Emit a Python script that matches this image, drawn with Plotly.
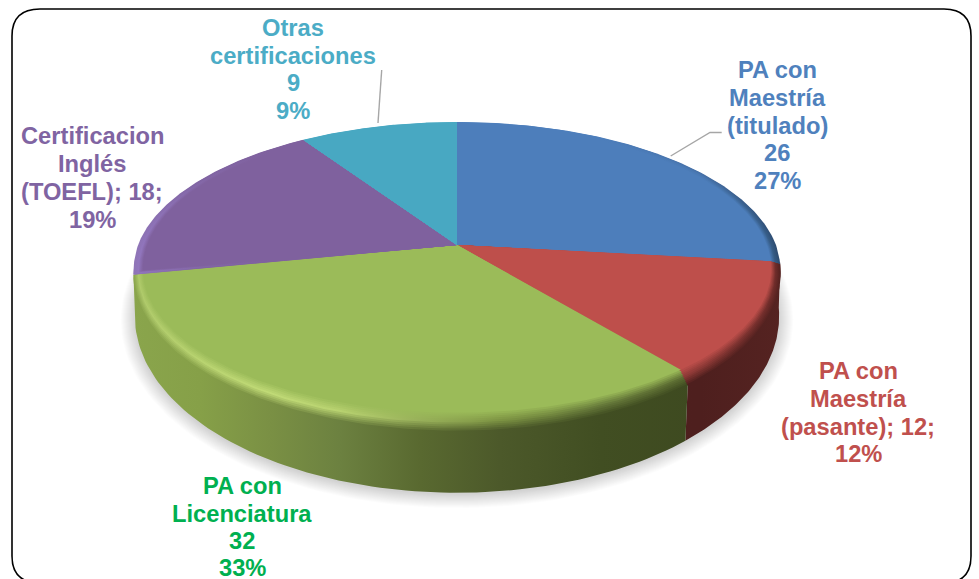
import numpy as np
import plotly.graph_objects as go

categories = ["PA con Maestría (titulado)", "PA con Maestría (pasante)", "PA con Licenciatura",
              "Certificacion Inglés (TOEFL)", "Otras certificaciones"]
values = [26, 12, 32, 18, 9]
percents = ["27%", "12%", "33%", "19%", "9%"]

face_colors = ["#4d7ebb", "#be4f4b", "#9bbb59", "#7f619e", "#48a8c2"]
label_colors = ["#4f81bd", "#c0504d", "#00b050", "#8064a2", "#4bacc6"]

label_lines = [
    ["PA con", "Maestría", "(titulado)", "26", "27%"],
    ["PA con", "Maestría", "(pasante); 12;", "12%"],
    ["PA con", "Licenciatura", "32", "33%"],
    ["Certificacion", "Inglés", "(TOEFL); 18;", "19%"],
    ["Otras", "certificaciones", "9", "9%"],
]

# ---- layout geometry (pixels on a hidden 979x579 axis) ----
CX, CY = 457, 245
RX, RY, P = 319, 144, 0.17          # top disc
RXB, RYB, PB, HB = 318, 172, 0.16, 43  # bottom disc
label_x = [777, 858, 242, 92, 293]
label_y = [[70, 98, 126, 153, 181], [371, 399, 427, 454], [486, 514, 541, 568],
           [136, 164, 192, 220], [28, 56, 83, 111]]

GX = [132, 200, 270, 340, 420, 500, 600, 700, 782]
hl_stops = [
    ["#4d7ebb"] * 6 + ["#4d7ebb", "#4a79b4", "#33587f"],
    ["#be4f4b"] * 5 + ["#b04844", "#9c3f3c", "#8a3835", "#6e2c2a"],
    ["#aec96a", "#b8d370", "#c0da76", "#b8d270", "#98b05a", "#7d9443", "#66793a", "#5a6a30", "#5a6a30"],
    ["#9378c0", "#8468a8"] + ["#7f619e"] * 7,
    ["#48a8c2"] * 9,
]
wall_stops = [
    ["#4d7ebb"] * 6 + ["#4d7ebb", "#466fa6", "#2c4a6e"],
    ["#5a2422"] * 4 + ["#562220", "#522120", "#4f1f1f", "#4e1f1e", "#552321"],
    ["#8aa54c", "#86a048", "#7a9044", "#6c8140", "#596930", "#4c592a", "#414e22", "#3e4a20", "#3e4a20"],
    ["#9076b8", "#8064a2"] + ["#7f619e"] * 7,
    ["#48a8c2"] * 9,
]


def rgb(h):
    return np.array([int(h[i:i + 2], 16) for i in (1, 3, 5)], float)


def mix(a, b, t):
    c = rgb(a) * (1 - t) + rgb(b) * t
    return "#%02x%02x%02x" % tuple(int(v) for v in c)


def top(th, r=1.0):
    u, v = np.sin(th) * r, np.cos(th) * r
    s = 1 / (1 + P * v)
    return CX + RX * u * s, CY - RY * v * s


def bottom(th, extra=0.0):
    u, v = np.sin(th), np.cos(th)
    s = 1 / (1 + PB * v)
    return CX + (RXB + extra) * u * s, CY + HB - (RYB + extra * 0.8) * v * s


def rim_edge(th, t):
    r = 0.972 + 0.028 * t
    x, y = top(th, r)
    return x, y + 14 * t * np.maximum(0, -np.cos(th)) ** 0.8


def gradient(c_list):
    pos = [(x - GX[0]) / (GX[-1] - GX[0]) for x in GX]
    return dict(type="horizontal", start=GX[0], stop=GX[-1],
                colorscale=[[p, c] for p, c in zip(pos, c_list)])


fig = go.Figure()


def poly(xs, ys, **kw):
    fig.add_trace(go.Scatter(x=list(xs), y=list(ys), mode="lines", fill="toself",
                             line=dict(width=0), hoverinfo="skip", showlegend=False, **kw))


# angles of the slices come from the values
cum = np.cumsum([0] + values) / sum(values) * 2 * np.pi

# soft shadow under the pie
full = np.linspace(0, 2 * np.pi, 241)
for e in range(15, 0, -1):
    bx, by = bottom(full, extra=e - 1)
    poly(bx, by + 2, fillcolor="rgba(0,0,0,0.012)")

# side walls
for i in (1, 2):
    th = np.linspace(cum[i], cum[i + 1], 90)
    fx, fy = top(th)
    bx, by = bottom(th)
    poly(np.r_[fx, bx[::-1]], np.r_[fy, by[::-1]], fillgradient=gradient(wall_stops[i]),
         fillcolor=wall_stops[i][0])

# rounded rim (nested wedges) and flat face of every slice
LEVELS = [1.0, 0.9, 0.8, 0.7, 0.6, 0.5, 0.4, 0.3, 0.2, 0.1, 0.0]
for i in range(len(values)):
    th = np.linspace(cum[i], cum[i + 1], 120)
    for t in LEVELS:
        ex, ey = rim_edge(th, t)
        if t >= 0.5:
            cols = [mix(h, w, (t - 0.5) * 2) for h, w in zip(hl_stops[i], wall_stops[i])]
        else:
            cols = [mix(face_colors[i], h, t * 2) for h in hl_stops[i]]
        poly(np.r_[CX, ex, CX], np.r_[CY, ey, CY], fillgradient=gradient(cols), fillcolor=cols[0])

# labels: one text per line so the line pitch matches
for i, lines in enumerate(label_lines):
    for line, y in zip(lines, label_y[i]):
        fig.add_annotation(x=label_x[i], y=y, text="<b>%s</b>" % line, showarrow=False,
                           xanchor="center", yanchor="middle",
                           font=dict(family="Liberation Sans", size=23.7, color=label_colors[i]))

frame = ("M 12 36 Q 12 9 40 9 L 944 9 Q 971 9 971 36 L 971 556 Q 971 583 944 583 "
         "L 40 583 Q 12 583 12 556 Z")
fig.update_layout(
    width=979, height=579, margin=dict(l=0, r=0, t=0, b=0),
    paper_bgcolor="white", plot_bgcolor="white", showlegend=False,
    xaxis=dict(range=[0, 979], visible=False, fixedrange=True),
    yaxis=dict(range=[579, 0], visible=False, fixedrange=True),
    shapes=[
        dict(type="path", path=frame, line=dict(color="#000000", width=1.6), layer="above"),
        dict(type="path", path="M 381.7 70 L 378 123", line=dict(color="#a6a6a6", width=1.4)),
        dict(type="path", path="M 721.7 132.5 L 710 132.5 L 670.7 156", line=dict(color="#a6a6a6", width=1.4)),
    ],
)
fig.write_html("out.html", config={"displayModeBar": False},
               post_script="document.body.style.margin='0';document.documentElement.style.overflow='hidden';")
